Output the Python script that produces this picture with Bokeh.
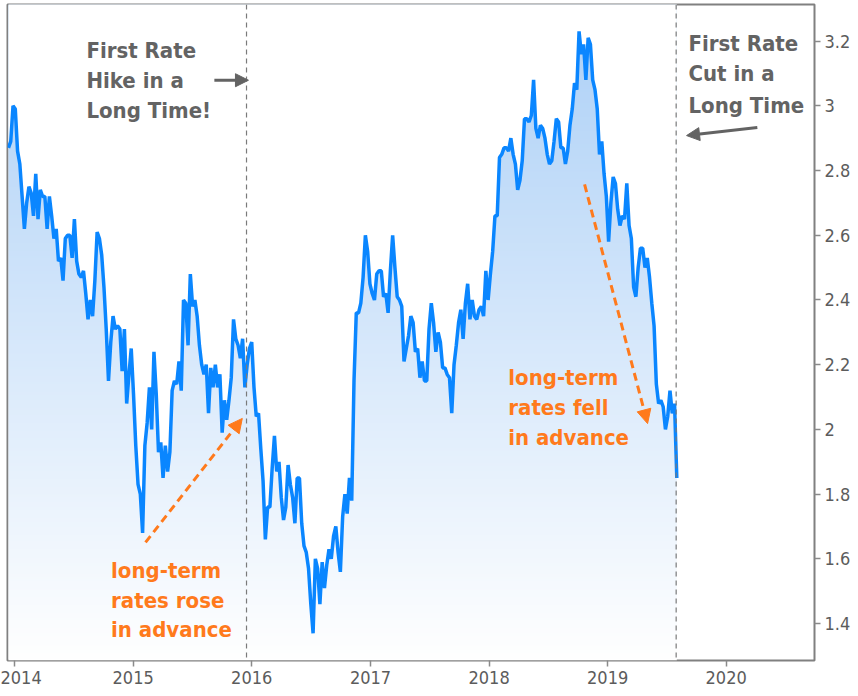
import numpy as np
import pandas as pd
from bokeh.plotting import figure
from bokeh.models import Span, Arrow, NormalHead, Label, FixedTicker, Range1d, DatetimeTickFormatter
from bokeh.embed import file_html
from bokeh.resources import INLINE

# ---------------- data (weekly closes) ----------------
start_date = "2013-12-13"
yields_2013 = [2.87, 2.89, 3.00]
yields_2014 = [2.99, 2.86, 2.82, 2.72, 2.62,
               2.70, 2.75, 2.73, 2.66,
               2.79, 2.65, 2.74, 2.72,
               2.72, 2.62, 2.72, 2.66,
               2.59, 2.62, 2.52, 2.53, 2.46,
               2.59, 2.60, 2.60, 2.53,
               2.65, 2.52, 2.48, 2.47,
               2.49, 2.42, 2.34, 2.40, 2.35,
               2.46, 2.61, 2.59, 2.54,
               2.44, 2.31, 2.15, 2.27, 2.35,
               2.31, 2.32, 2.31, 2.18,
               2.31, 2.08, 2.17, 2.25]
yields_2015 = [2.11, 1.95, 1.83, 1.80, 1.68,
               1.95, 2.02, 2.13, 2.00,
               2.24, 2.11, 1.93, 1.96,
               1.85, 1.95, 1.87, 1.93,
               2.12, 2.15, 2.14, 2.21, 2.12,
               2.40, 2.39, 2.26, 2.48,
               2.38, 2.40, 2.35, 2.26, 2.20,
               2.17, 2.20, 2.05, 2.19,
               2.13, 2.20, 2.13, 2.17,
               1.99, 2.09, 2.03, 2.09, 2.16,
               2.34, 2.28, 2.26, 2.22,
               2.28, 2.13, 2.20, 2.25]
yields_2016 = [2.27, 2.13, 2.04, 2.05, 1.94,
               1.84, 1.66, 1.76, 1.76,
               1.88, 1.98, 1.87, 1.90,
               1.79, 1.72, 1.76, 1.89, 1.83,
               1.79, 1.71, 1.85, 1.85,
               1.71, 1.64, 1.62, 1.57,
               1.46, 1.37, 1.60, 1.57, 1.46,
               1.59, 1.51, 1.58, 1.63,
               1.60, 1.67, 1.70, 1.62, 1.56,
               1.73, 1.80, 1.74, 1.85,
               1.78, 2.15, 2.36, 2.36,
               2.39, 2.47, 2.60, 2.55, 2.45]
yields_2017 = [2.42, 2.40, 2.48, 2.49,
               2.49, 2.41, 2.42, 2.36,
               2.49, 2.60, 2.50, 2.41, 2.40,
               2.38, 2.21, 2.25, 2.29,
               2.35, 2.33, 2.24, 2.25,
               2.16, 2.21, 2.15, 2.15, 2.31,
               2.39, 2.33, 2.24, 2.30,
               2.27, 2.19, 2.19, 2.17,
               2.16, 2.05, 2.20, 2.26, 2.33,
               2.37, 2.28, 2.39, 2.45,
               2.34, 2.40, 2.35, 2.34,
               2.37, 2.38, 2.35, 2.49, 2.40]
yields_2018 = [2.48, 2.55, 2.66, 2.66,
               2.84, 2.85, 2.87, 2.87,
               2.86, 2.90, 2.85, 2.82, 2.74,
               2.77, 2.83, 2.96, 2.96,
               2.95, 2.97, 3.08, 2.93,
               2.90, 2.94, 2.93, 2.90, 2.85,
               2.82, 2.83, 2.89, 2.96,
               2.95, 2.87, 2.87, 2.82, 2.86,
               2.94, 2.99, 3.07, 3.05,
               3.23, 3.16, 3.19, 3.08,
               3.21, 3.19, 3.08, 3.05, 2.99,
               2.85, 2.89, 2.79, 2.72]
yields_2019 = [2.58, 2.70, 2.78, 2.76,
               2.68, 2.63, 2.66, 2.65,
               2.76, 2.63, 2.59, 2.44, 2.41,
               2.50, 2.56, 2.56, 2.50,
               2.53, 2.47, 2.39, 2.32, 2.14,
               2.08, 2.09, 2.07, 2.00,
               2.04, 2.12, 2.05, 2.08,
               1.85]

x_tick_years = [2014, 2015, 2016, 2017, 2018, 2019, 2020]
y_ticks = [1.4, 1.6, 1.8, 2.0, 2.2, 2.4, 2.6, 2.8, 3.0, 3.2]
y_tick_labels = ["1.4", "1.6", "1.8", "2", "2.2", "2.4", "2.6", "2.8", "3", "3.2"]

rate_hike_date = "2015-12-16"
rate_cut_date = "2019-07-31"

hike_text = ["First Rate", "Hike in a", "Long Time!"]
cut_text = ["First Rate", "Cut in a", "Long Time"]
rose_text = ["long-term", "rates rose", "in advance"]
fell_text = ["long-term", "rates fell", "in advance"]

# ---------------- styling ----------------
FONT = "DejaVu Sans Condensed"
LINE_BLUE = "#0a86ff"
GREY_TXT = "#636363"
ORANGE = "#ff7a1c"
AXIS_TXT = "#5c5c5c"


def ms(d):
    return pd.Timestamp(d).value / 1e6


values = np.array(yields_2013 + yields_2014 + yields_2015 + yields_2016 +
                  yields_2017 + yields_2018 + yields_2019)
dates = pd.date_range(start_date, periods=len(values), freq="7D")

Y_BOTTOM, Y_TOP = 1.286, 3.313
p = figure(width=856, height=694, x_axis_type="datetime", y_axis_location="right",
           x_range=Range1d(ms("2013-12-10"), ms("2020-09-29")),
           y_range=Range1d(Y_BOTTOM, Y_TOP),
           output_backend="svg", toolbar_location=None,
           min_border_left=7, min_border_top=4, min_border_right=42, min_border_bottom=34)
p.background_fill_color = "white"
p.border_fill_color = "white"
p.outline_line_color = "#808080"
p.outline_line_width = 2
p.grid.visible = False

# gradient fill under the curve: vertical gradient image masked above the line
n = 400
t = np.linspace(0.0, 1.0, n)
img = np.empty((n, 1), dtype=np.uint32)
view = img.view(dtype=np.uint8).reshape((n, 1, 4))
view[:, 0, 0] = (255 - (255 - 172) * t).astype(np.uint8)
view[:, 0, 1] = (255 - (255 - 208) * t).astype(np.uint8)
view[:, 0, 2] = (255 - (255 - 247) * t).astype(np.uint8)
view[:, 0, 3] = 255
x0 = ms(dates[0])
x1 = ms(dates[-1])
p.image_rgba(image=[img], x=x0, y=Y_BOTTOM, dw=x1 - x0, dh=Y_TOP - Y_BOTTOM)
p.varea(x=dates, y1=values, y2=Y_TOP + 0.2, fill_color="white")

p.line(dates, values, line_color=LINE_BLUE, line_width=3.5)

for d in (rate_hike_date, rate_cut_date):
    p.add_layout(Span(location=ms(d), dimension="height", line_color="#7a7a7a",
                      line_width=1.2, line_dash="5 4"))

# axes
p.xaxis.ticker = FixedTicker(ticks=[ms(f"{y}-01-01") for y in x_tick_years])
p.xaxis.formatter = DatetimeTickFormatter(years="%Y", months="%Y", days="%Y", hours="%Y")
p.yaxis.ticker = FixedTicker(ticks=y_ticks)
p.yaxis.major_label_overrides = {v: s for v, s in zip(y_ticks, y_tick_labels)}
for ax in (p.xaxis[0], p.yaxis[0]):
    ax.axis_line_color = None
    ax.major_tick_line_color = "#8a8a8a"
    ax.major_tick_line_width = 1.5
    ax.major_tick_out = 6
    ax.major_tick_in = 0
    ax.minor_tick_line_color = None
    ax.major_label_text_font = FONT
    ax.major_label_text_font_size = "18px"
    ax.major_label_text_color = AXIS_TXT
    ax.major_label_standoff = 4


def add_lines(lines, x, ys, color, size="22px"):
    for s, y in zip(lines, ys):
        p.add_layout(Label(x=ms(x), y=y, text=s, text_font=FONT, text_font_style="bold",
                           text_font_size=size, text_color=color, text_baseline="middle",
                           text_align="left"))


add_lines(hike_text, "2014-08-10", [3.171, 3.079, 2.986], GREY_TXT)
add_lines(cut_text, "2019-09-07", [3.193, 3.100, 3.001], GREY_TXT)
add_lines(rose_text, "2014-10-25", [1.564, 1.472, 1.382], ORANGE)
add_lines(fell_text, "2018-03-01", [2.161, 2.068, 1.976], ORANGE)

p.add_layout(Arrow(end=NormalHead(size=13, fill_color=GREY_TXT, line_color=GREY_TXT),
                   x_start=ms("2015-09-08"), y_start=3.079, x_end=ms("2015-12-22"), y_end=3.079,
                   line_color=GREY_TXT, line_width=3))
p.add_layout(Arrow(end=NormalHead(size=13, fill_color=GREY_TXT, line_color=GREY_TXT),
                   x_start=ms("2020-04-06"), y_start=2.933, x_end=ms("2019-09-01"), y_end=2.908,
                   line_color=GREY_TXT, line_width=3))
p.add_layout(Arrow(end=NormalHead(size=14, fill_color=ORANGE, line_color=ORANGE),
                   x_start=ms("2015-02-08"), y_start=1.651, x_end=ms("2015-12-03"), y_end=2.034,
                   line_color=ORANGE, line_width=3, line_dash="8 5"))
p.add_layout(Arrow(end=NormalHead(size=14, fill_color=ORANGE, line_color=ORANGE),
                   x_start=ms("2018-10-22"), y_start=2.757, x_end=ms("2019-05-04"), y_end=2.018,
                   line_color=ORANGE, line_width=3, line_dash="8 5"))

open("out.html", "w").write(file_html(p, INLINE))
